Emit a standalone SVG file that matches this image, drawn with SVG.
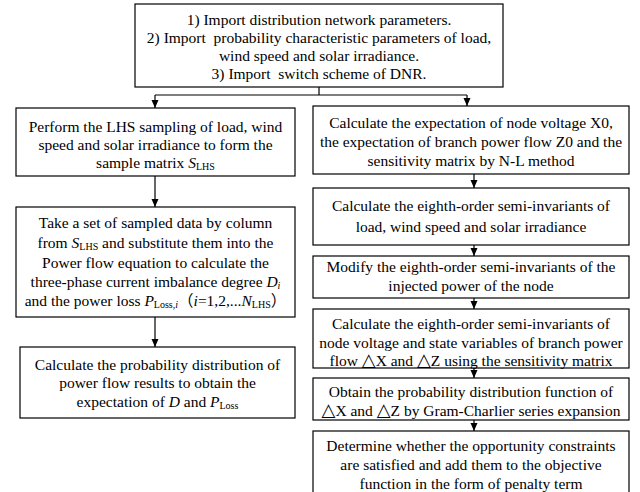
<svg xmlns="http://www.w3.org/2000/svg" width="640" height="492" viewBox="0 0 640 492">
<defs>
<marker id="ah" viewBox="0 0 8 8" refX="8" refY="4" markerWidth="8" markerHeight="8" markerUnits="userSpaceOnUse" orient="auto">
<path d="M0,0.5 L8,4 L0,7.5 z" fill="#000"/>
</marker>
<style>
.box{fill:#fff;stroke:#000;stroke-width:1.2}
.t{font-family:"Liberation Serif","Times New Roman","Noto Sans CJK SC",serif;font-size:15.5px;fill:#000;text-anchor:middle}
.sub{font-size:10px}
.i{font-style:italic}
.tri{font-family:"DejaVu Sans","Noto Sans CJK SC",sans-serif;font-size:18px}
.c{fill:none;stroke:#000;stroke-width:1.2}
.a{fill:none;stroke:#000;stroke-width:1.2;marker-end:url(#ah)}
</style>
</defs>
<rect width="640" height="492" fill="#fff"/>
<g id="connectors">
<polyline class="c" points="319,87 319,95"/>
<polyline class="c" points="155,95 467,95"/>
<line class="a" x1="155" y1="95" x2="155" y2="108"/>
<line class="a" x1="467" y1="95" x2="467" y2="106"/>
<line class="a" x1="155" y1="176" x2="155" y2="207"/>
<line class="a" x1="155" y1="317" x2="155" y2="347"/>
<line class="a" x1="474" y1="174" x2="474" y2="188"/>
<line class="a" x1="474" y1="245" x2="474" y2="256"/>
<line class="a" x1="474" y1="298" x2="474" y2="309"/>
<line class="a" x1="474" y1="368" x2="474" y2="378"/>
<line class="a" x1="474" y1="420" x2="474" y2="431"/>
</g>
<g id="n0">
<rect class="box" x="135" y="4" width="368" height="83"/>
<text class="t" x="319" y="25">1) Import distribution network parameters.</text>
<text class="t" x="319" y="43" xml:space="preserve">2) Import  probability characteristic parameters of load,</text>
<text class="t" x="319" y="61">wind speed and solar irradiance.</text>
<text class="t" x="319" y="79" xml:space="preserve">3) Import  switch scheme of DNR.</text>
</g>
<g id="l1">
<rect class="box" x="16" y="108" width="279" height="68"/>
<text class="t" x="155.5" y="132">Perform the LHS sampling of load, wind</text>
<text class="t" x="155.5" y="150">speed and solar irradiance to form the</text>
<text class="t" x="155.5" y="168">sample matrix <tspan class="i">S</tspan><tspan class="sub" dy="2">LHS</tspan></text>
</g>
<g id="l2">
<rect class="box" x="16" y="207" width="279" height="110"/>
<text class="t" x="155.5" y="228">Take a set of sampled data by column</text>
<text class="t" x="155.5" y="248">from <tspan class="i">S</tspan><tspan class="sub" dy="2">LHS</tspan><tspan dy="-2"> and substitute them into the</tspan></text>
<text class="t" x="155.5" y="268">Power flow equation to calculate the</text>
<text class="t" x="155.5" y="287">three-phase current imbalance degree <tspan class="i">D</tspan><tspan class="sub i" dy="2">i</tspan></text>
<text class="t" x="155.5" y="306">and the power loss <tspan class="i">P</tspan><tspan class="sub" dy="2">Loss,<tspan class="i">i</tspan></tspan><tspan dy="-2">（<tspan class="i">i</tspan>=1,2,...<tspan class="i">N</tspan></tspan><tspan class="sub" dy="2">LHS</tspan><tspan dy="-2">）</tspan></text>
</g>
<g id="l3">
<rect class="box" x="20" y="347" width="275" height="71"/>
<text class="t" x="157.5" y="370">Calculate the probability distribution of</text>
<text class="t" x="157.5" y="388">power flow results to obtain the</text>
<text class="t" x="157.5" y="407">expectation of <tspan class="i">D</tspan> and <tspan class="i">P</tspan><tspan class="sub" dy="2">Loss</tspan></text>
</g>
<g id="r1">
<rect class="box" x="313" y="106" width="316" height="68"/>
<text class="t" x="471" y="128">Calculate the expectation of node voltage X0,</text>
<text class="t" x="471" y="147">the expectation of branch power flow Z0 and the</text>
<text class="t" x="471" y="166">sensitivity matrix by N-L method</text>
</g>
<g id="r2">
<rect class="box" x="313" y="188" width="316" height="57"/>
<text class="t" x="471" y="211">Calculate the eighth-order semi-invariants of</text>
<text class="t" x="471" y="232">load, wind speed and solar irradiance</text>
</g>
<g id="r3">
<rect class="box" x="313" y="256" width="316" height="42"/>
<text class="t" x="471" y="272">Modify the eighth-order semi-invariants of the</text>
<text class="t" x="471" y="291">injected power of the node</text>
</g>
<g id="r4">
<rect class="box" x="313" y="309" width="316" height="59"/>
<text class="t" x="471" y="329">Calculate the eighth-order semi-invariants of</text>
<text class="t" x="471" y="348">node voltage and state variables of branch power</text>
<text class="t" x="471" y="366">flow <tspan class="tri">△</tspan>X and <tspan class="tri">△</tspan>Z using the sensitivity matrix</text>
</g>
<g id="r5">
<rect class="box" x="313" y="378" width="316" height="42"/>
<text class="t" x="471" y="397">Obtain the probability distribution function of</text>
<text class="t" x="471" y="416"><tspan class="tri">△</tspan>X and <tspan class="tri">△</tspan>Z by Gram-Charlier series expansion</text>
</g>
<g id="r6">
<rect class="box" x="313" y="431" width="316" height="66"/>
<text class="t" x="471" y="451">Determine whether the opportunity constraints</text>
<text class="t" x="471" y="470">are satisfied and add them to the objective</text>
<text class="t" x="471" y="489">function in the form of penalty term</text>
</g>
</svg>
